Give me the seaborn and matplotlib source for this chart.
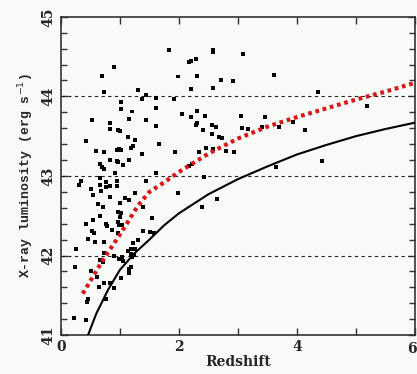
import numpy as np
import pandas as pd
import matplotlib
matplotlib.use('Agg')
import matplotlib.pyplot as plt
from matplotlib.ticker import MultipleLocator
import seaborn as sns

# sources: redshift / log X-ray luminosity
src_z = [
    1.83, 0.90, 0.69, 0.73, 1.31, 1.37, 1.44, 1.61, 1.02, 1.61, 1.02,
    1.20, 0.53, 0.83, 0.83, 1.15, 1.44, 1.61, 0.97, 1.00, 0.42, 1.14,
    1.25, 1.66, 1.22, 1.19, 0.59, 0.73, 0.95, 0.98, 1.02, 1.37, 0.66,
    0.69, 0.73, 0.83, 0.95, 0.97, 1.05, 1.15, 0.92, 1.61, 0.66, 0.31,
    0.34, 0.76, 0.76, 0.83, 0.95, 0.95, 0.66, 0.51, 1.44,
    0.54, 0.68, 0.83, 1.08, 1.25, 0.63, 0.71, 1.00, 1.15, 0.97, 1.02,
    1.39, 0.66, 1.00, 0.42, 0.54, 0.76, 0.78, 0.97, 0.98, 1.03, 1.54,
    0.53, 0.56, 0.86, 0.46, 0.58, 0.73, 0.97, 1.39, 1.51, 1.58, 1.31,
    0.25, 0.73, 0.66, 0.71, 0.90, 0.98, 1.03, 1.05, 1.14, 1.19, 1.22,
    1.25, 1.19, 1.20, 1.24, 0.24, 0.51, 1.15, 1.19, 1.02,
    0.61, 0.64, 0.73, 0.83, 0.90, 1.15, 0.44, 0.46, 0.76, 0.22, 0.42,
    2.58, 2.58, 3.08, 2.17, 2.20, 2.29, 1.98, 2.31, 2.71, 2.92, 3.61,
    2.20, 2.58, 1.92, 2.05, 2.20, 2.31, 2.44, 3.05, 3.46,
    2.29, 2.31, 2.56, 2.63, 2.41, 2.56, 2.68, 2.73, 3.07, 3.17, 3.41,
    3.69, 1.93, 2.34, 2.46, 2.58, 2.80, 2.93, 2.22, 2.17, 2.42, 1.98,
    2.64, 2.39, 3.64,
    4.36, 3.93, 4.14, 5.19, 4.42,
]
src_lx = [
    44.58, 44.37, 44.26, 44.06, 44.08, 43.97, 44.02, 43.98, 43.93, 43.86, 43.84,
    43.81, 43.70, 43.67, 43.59, 43.72, 43.70, 43.63, 43.58, 43.57, 43.44, 43.49,
    43.45, 43.40, 43.38, 43.35, 43.31, 43.30, 43.33, 43.34, 43.33, 43.28, 43.15,
    43.11, 43.09, 43.20, 43.19, 43.18, 43.14, 43.20, 43.04, 43.04, 42.97, 42.89,
    42.94, 42.92, 42.86, 42.87, 42.94, 42.87, 42.89, 42.84, 42.94,
    42.76, 42.81, 42.74, 42.72, 42.79, 42.65, 42.61, 42.66, 42.70, 42.55, 42.53,
    42.61, 42.50, 42.48, 42.40, 42.45, 42.40, 42.37, 42.42, 42.38, 42.38, 42.47,
    42.31, 42.28, 42.32, 42.21, 42.17, 42.17, 42.28, 42.31, 42.30, 42.28, 42.19,
    42.08, 42.03, 41.94, 41.92, 41.99, 41.96, 41.98, 41.93, 42.06, 42.08, 42.16,
    42.08, 42.02, 41.98, 42.01, 41.86, 41.81, 41.83, 41.86, 41.72,
    41.73, 41.60, 41.65, 41.65, 41.59, 41.78, 41.42, 41.45, 41.45, 41.21, 41.19,
    44.58, 44.56, 44.53, 44.43, 44.45, 44.47, 44.25, 44.26, 44.21, 44.19, 44.27,
    44.09, 44.11, 43.97, 43.78, 43.74, 43.82, 43.75, 43.75, 43.74,
    43.64, 43.67, 43.64, 43.62, 43.58, 43.53, 43.49, 43.48, 43.60, 43.59, 43.62,
    43.62, 43.30, 43.30, 43.35, 43.34, 43.31, 43.30, 43.15, 43.13, 42.99, 42.79,
    42.71, 42.61, 43.11,
    44.06, 43.68, 43.58, 43.88, 43.19,
]

# red dotted curve
red_z = [0.37, 0.5, 0.7, 0.9, 1.1, 1.3, 1.5, 1.75, 2.0, 2.5, 3.0, 3.5, 4.0, 4.5, 5.0, 5.5, 6.0]
red_lx = [41.52, 41.68, 41.93, 42.15, 42.38, 42.62, 42.80, 42.92, 43.05, 43.28, 43.47,
          43.62, 43.74, 43.85, 43.96, 44.06, 44.17]

# black solid curve (flux limit)
lim_z = [0.46, 0.6, 0.8, 1.0, 1.25, 1.5, 1.75, 2.0, 2.5, 3.0, 3.5, 4.0, 4.5, 5.0, 5.5, 6.0]
lim_lx = [41.0, 41.27, 41.57, 41.82, 42.03, 42.20, 42.38, 42.53, 42.77, 42.96, 43.12,
          43.27, 43.39, 43.50, 43.59, 43.67]

ref_levels = [42, 43, 44]
x_ticks = [0, 2, 4, 6]
x_ticklabels = ['0', '2', '4', '6']

src = pd.DataFrame({'z': src_z, 'lx': src_lx})
red = pd.DataFrame({'z': red_z, 'lx': red_lx})
lim = pd.DataFrame({'z': lim_z, 'lx': lim_lx})

sns.set_theme(style='ticks')
bg = '#f8faf8'
fig = plt.figure(figsize=(4.17, 3.74), dpi=100, facecolor=bg)
ax = fig.add_axes([0.146, 0.104, 0.849, 0.851])
ax.set_facecolor(bg)

for lv in ref_levels:
    ax.axhline(lv, color='#222222', lw=0.8, linestyle=(0, (3, 3)), zorder=1)

sns.scatterplot(data=src, x='z', y='lx', ax=ax, marker='s', s=8,
                color='black', edgecolor='none', linewidth=0, zorder=3)
sns.lineplot(data=lim, x='z', y='lx', ax=ax, color='black', lw=1.5,
             estimator=None, sort=True, zorder=4)
sns.lineplot(data=red, x='z', y='lx', ax=ax, color='#d81818', lw=3,
             estimator=None, sort=True, zorder=5, linestyle=(0, (0.9, 0.9)),
             dash_capstyle='butt')

ax.set_xlim(0, 6)
ax.set_ylim(41, 45)
tick_font = dict(family='DejaVu Serif', fontweight='bold', fontsize=10)
# last label ("6") drawn separately so it can hug the right edge
ax.set_xticks(x_ticks, x_ticklabels[:-1] + [''], **tick_font)
ax.annotate(x_ticklabels[-1], xy=(x_ticks[-1], 0), xycoords=('data', 'axes fraction'),
            xytext=(1, -5), textcoords='offset points', ha='right', va='top', **tick_font)
ax.xaxis.set_minor_locator(MultipleLocator(1))
ax.yaxis.set_major_locator(MultipleLocator(1))
ax.yaxis.set_minor_locator(MultipleLocator(0.2))
ax.tick_params(which='both', direction='in', top=True, right=True,
               color='#333333', width=1)
ax.tick_params(which='major', length=5)
ax.tick_params(which='minor', length=4)
ax.tick_params(axis='x', which='minor', length=5)
ax.tick_params(axis='y', labelrotation=90, pad=4)
for lab in ax.get_yticklabels():
    lab.set_fontfamily('DejaVu Serif')
    lab.set_fontweight('bold')
    lab.set_fontsize(10)
    lab.set_va('center')

for sp in ax.spines.values():
    sp.set_color('#333333')
    sp.set_linewidth(1.2)

ax.set_xlabel('Redshift', family='DejaVu Serif', fontweight='bold', fontsize=10, labelpad=1)
ax.set_ylabel('X-ray luminosity (erg s$^{-1}$)', family='Liberation Mono',
              fontweight='bold', fontsize=9.5, labelpad=4)

fig.savefig('out.png', dpi=100, facecolor=bg)
